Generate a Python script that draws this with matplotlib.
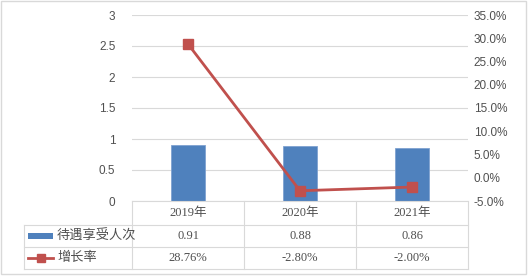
import matplotlib
matplotlib.use("Agg")
import matplotlib.pyplot as plt
from matplotlib.lines import Line2D
from matplotlib.patches import Rectangle

categories = ["2019年", "2020年", "2021年"]
people = [0.91, 0.88, 0.86]
growth = [28.76, -2.80, -2.00]
people_labels = ["0.91", "0.88", "0.86"]
growth_labels = ["28.76%", "-2.80%", "-2.00%"]
series_names = ["待遇享受人次", "增长率"]
left_ticks = [0, 0.5, 1, 1.5, 2, 2.5, 3]
right_ticks = [-5, 0, 5, 10, 15, 20, 25, 30, 35]

plt.rcParams['font.family'] = ['Liberation Serif', 'Noto Sans CJK SC', 'DejaVu Sans']

W, H = 528, 276
fig = plt.figure(figsize=(W / 100, H / 100), dpi=100)

def fx(x):
    return x / W

def fy(y):
    return 1 - y / H

grid_c = "#D9D9D9"
text_c = "#505050"
bar_c = "#4F81BD"
line_c = "#C0504D"

ax = fig.add_axes([fx(132), fy(201), fx(468) - fx(132), fy(15) - fy(201)])
x = list(range(len(categories)))
ax.bar(x, people, width=0.31, color=bar_c, edgecolor="#7FA2D0", linewidth=0.6, zorder=2)
ax.set_xlim(-0.5, 2.5)
ax.set_ylim(0, 3)
ax.set_yticks(left_ticks)
ax.set_yticklabels(["0", "0.5", "1", "1.5", "2", "2.5", "3"], family=['Liberation Sans', 'DejaVu Sans'],
                   fontsize=8.5, color=text_c)
ax.tick_params(axis='y', length=0, pad=12)
ax.set_xticks([])
ax.grid(axis='y', color=grid_c, linewidth=0.8, zorder=0)
for s in ax.spines.values():
    s.set_visible(False)

ax2 = ax.twinx()
ax2.plot(x, growth, color=line_c, linewidth=2, marker='s', markersize=7,
         markerfacecolor=line_c, markeredgecolor=line_c, zorder=3)
ax2.set_ylim(-5, 35)
ax2.set_yticks(right_ticks)
ax2.set_yticklabels([f"{v:.1f}%" for v in right_ticks], family=['Liberation Sans', 'DejaVu Sans'],
                    fontsize=8.5, color=text_c)
ax2.tick_params(axis='y', length=0, pad=4)
for s in ax2.spines.values():
    s.set_visible(False)

# table
def hline(x0, x1, y):
    fig.add_artist(Line2D([fx(x0), fx(x1)], [fy(y), fy(y)], color=grid_c, linewidth=0.8))

def vline(x, y0, y1):
    fig.add_artist(Line2D([fx(x), fx(x)], [fy(y0), fy(y1)], color=grid_c, linewidth=0.8))

col_edges = [132, 244, 356, 468]
hline(132, 468, 201)
hline(24, 468, 225)
hline(24, 468, 247)
hline(24, 468, 269)
for cx in col_edges:
    vline(cx, 201, 269)
vline(24, 225, 269)

for i, cat in enumerate(categories):
    cx = (col_edges[i] + col_edges[i + 1]) / 2
    fig.text(fx(cx), fy(213), cat, ha='center', va='center', fontsize=9, color=text_c)
    fig.text(fx(cx), fy(236), people_labels[i], ha='center', va='center', fontsize=9, color=text_c)
    fig.text(fx(cx), fy(258), growth_labels[i], ha='center', va='center', fontsize=9, color=text_c)

# legend keys
fig.add_artist(Rectangle((fx(28), fy(238.5)), fx(53) - fx(28), fy(233) - fy(238.5),
                         facecolor=bar_c, edgecolor='none'))
fig.add_artist(Line2D([fx(28), fx(53)], [fy(258), fy(258)], color=line_c, linewidth=2))
fig.add_artist(Line2D([fx(40.5)], [fy(258)], color=line_c, marker='s', markersize=6))
fig.text(fx(57), fy(236), series_names[0], ha='left', va='center', fontsize=9.5, color=text_c,
         family=['Noto Sans CJK SC'], fontweight='light')
fig.text(fx(57), fy(258), series_names[1], ha='left', va='center', fontsize=9.5, color=text_c,
         family=['Noto Sans CJK SC'], fontweight='light')

# figure border
fig.add_artist(Rectangle((fx(1), fy(274)), fx(526) - fx(1), fy(1) - fy(274),
                         facecolor='none', edgecolor='#D9D9D9', linewidth=1))

fig.savefig("out.png", dpi=100)
